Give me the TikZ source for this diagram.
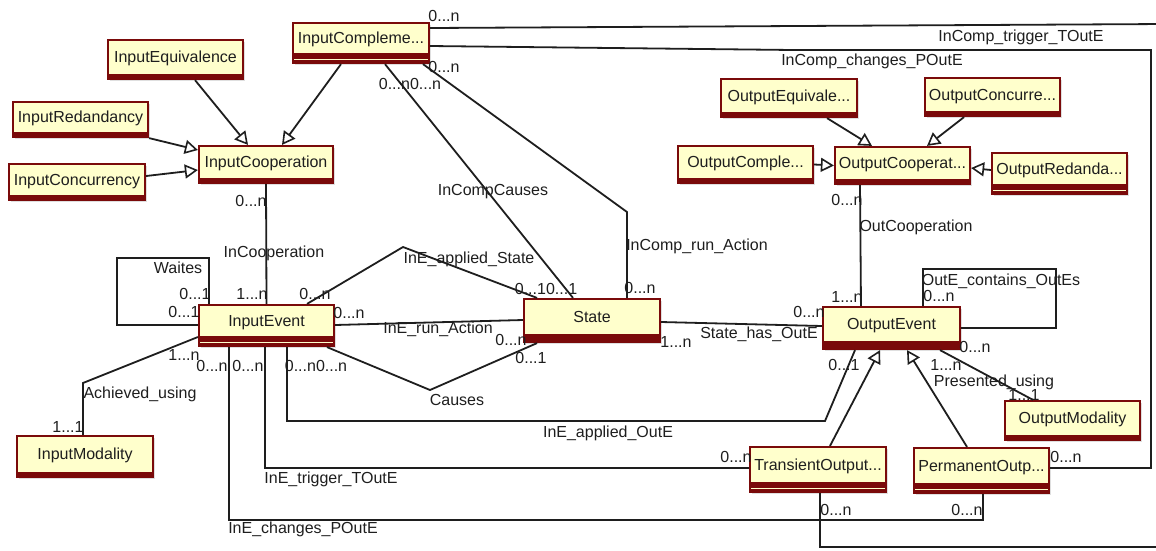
\documentclass[tikz,border=0pt]{standalone}
\usepackage{fontspec}
\setmainfont{Liberation Sans}
\usetikzlibrary{arrows.meta,shadows}
\definecolor{maroonc}{HTML}{7A0A0A}
\definecolor{creamc}{HTML}{FFFFCC}
\definecolor{inkc}{HTML}{1E1E1E}
\tikzset{
  cls/.style={rectangle, draw=maroonc, line width=2.2pt, fill=creamc, inner sep=0pt,
    text=inkc, font=\fontsize{16}{19}\selectfont, text height=11.5pt, text depth=#1,
    drop shadow={shadow xshift=2pt, shadow yshift=-2pt, opacity=0.25},
    path picture={\fill[maroonc] (path picture bounding box.south west) rectangle ([yshift=#1]path picture bounding box.south east);}},
  cls/.default=5pt,
  dbl/.style={cls=10pt,
    path picture={\fill[maroonc] (path picture bounding box.south west) rectangle ([yshift=10pt]path picture bounding box.south east);
      \draw[creamc, line width=1.3pt] ([yshift=3.5pt]path picture bounding box.south west) -- ([yshift=3.5pt]path picture bounding box.south east);}},
  lbl/.style={inner sep=0pt, text=inkc, font=\fontsize{16}{19}\selectfont, text height=11.5pt, text depth=0pt},
  asc/.style={draw=inkc, line width=1.8pt},
  gen/.style={draw=inkc, line width=1.8pt, -{Triangle[open, length=13pt, width=14pt, line width=1.6pt]}},
}
\begin{document}
\begin{tikzpicture}[x=1pt,y=-1pt]
\path[use as bounding box, clip] (0,0) rectangle (1156,550);
\fill[white] (0,0) rectangle (1156,550);

% classes
\node[cls, minimum width=135pt, minimum height=39pt] (IEq) at (175.5,59.5) {InputEquivalence};
\node[dbl, minimum width=136pt, minimum height=40pt] (ICm) at (361,43) {InputCompleme...};
\node[cls, minimum width=135pt, minimum height=35pt] (IRd) at (80.5,119.5) {InputRedandancy};
\node[cls, minimum width=134pt, minimum height=37pt] (ICo) at (266,164.5) {InputCooperation};
\node[cls, minimum width=136pt, minimum height=36pt] (ICc) at (77,182) {InputConcurrency};
\node[cls, minimum width=136pt, minimum height=38pt] (OEq) at (789,98) {OutputEquivale...};
\node[cls, minimum width=135pt, minimum height=38pt] (OCc) at (992.5,97) {OutputConcurre...};
\node[cls, minimum width=135pt, minimum height=37pt] (OCm) at (745.5,164.5) {OutputComple...};
\node[cls, minimum width=135pt, minimum height=37pt] (OCo) at (902.5,165.5) {OutputCooperat...};
\node[dbl, minimum width=135pt, minimum height=41pt] (ORd) at (1059.5,173.5) {OutputRedanda...};
\node[dbl, minimum width=135pt, minimum height=41pt] (IE) at (266.5,325.5) {InputEvent};
\node[cls=8pt, minimum width=136pt, minimum height=43pt] (ST) at (592,320.5) {State};
\node[cls=8pt, minimum width=137pt, minimum height=42pt] (OE) at (891.5,328) {OutputEvent};
\node[cls, minimum width=136pt, minimum height=41pt] (IM) at (85,456.5) {InputModality};
\node[cls, minimum width=135pt, minimum height=39pt] (OM) at (1072.5,420.5) {OutputModality};
\node[dbl, minimum width=136pt, minimum height=45pt] (TO) at (818,469.5) {TransientOutput...};
\node[dbl, minimum width=135pt, minimum height=45pt] (PO) at (981.5,470.5) {PermanentOutp...};

% generalizations
\draw[gen] (IEq.south -| 195,0) -- (ICo.north -| 248,0);
\draw[gen] (ICm.south -| 341,0) -- (ICo.north -| 282,0);
\draw[gen] (IRd.south east) -- (ICo.west |- 0,150);
\draw[gen] (ICc.east |- 0,176) -- (ICo.west |- 0,170);
\draw[gen] (OEq.south -| 827,0) -- (OCo.north -| 872,0);
\draw[gen] (OCc.south -| 964,0) -- (OCo.north -| 927,0);
\draw[gen] (OCm.east) -- (OCo.west);
\draw[gen] (ORd.west |- 0,170) -- (OCo.east |- 0,168);
\draw[gen] (TO.north -| 830,0) -- (OE.south -| 880,0);
\draw[gen] (PO.north -| 967,0) -- (OE.south -| 907,0);

% associations
\draw[asc] (ICo.south) -- (IE.north);
\draw[asc] (IE.west |- 0,325) -| (117,258) -| (IE.north -| 209,0);
\draw[asc] (IE.west |- 0,337) -- (83,383) -- (IM.north -| 83,0);
\draw[asc] (IE.north -| 307,0) -- (403,247) -- (ST.north -| 537,0);
\draw[asc] (IE.east |- 0,325) -- (ST.west |- 0,320);
\draw[asc] (IE.south -| 327,0) -- (430,390) -- (ST.south -| 537,0);
\draw[asc] (ICm.south -| 385,0) -- (ST.north -| 573,0);
\draw[asc] (ICm.south -| 423,0) -- (627,212) -- (ST.north -| 627,0);
\draw[asc] (ICm.east |- 0,28) -- (1165,24) |- (820,547) -- (TO.south -| 820,0);
\draw[asc] (ICm.east |- 0,46) -- (793,50) -| (1151,468) -- (PO.east |- 0,468);
\draw[asc] (IE.south -| 229,0) |- (983,520) -- (PO.south -| 983,0);
\draw[asc] (IE.south -| 265,0) |- (TO.west |- 0,468);
\draw[asc] (IE.south -| 287,0) |- (825,421) -- (OE.south -| 855,0);
\draw[asc] (OE.south -| 940,0) -- (OM.north -| 1033,0);
\draw[asc] (ST.east |- 0,322) -- (OE.west |- 0,326);
\draw[asc] (OCo.south -| 860,0) -- (OE.north -| 861,0);
\draw[asc] (OE.north -| 923,0) |- (1056,269) |- (OE.east |- 0,328);

% labels
\node[lbl] (l1) at (444,16) {0...n};
\node[lbl] (l2) at (444,67) {0...n};
\node[lbl] (l3) at (410,84) {0...n0...n};
\node[lbl] (l4) at (1021,36) {InComp\_trigger\_TOutE};
\node[lbl] (l5) at (872,60) {InComp\_changes\_POutE};
\node[lbl] (l6) at (493,190) {InCompCauses};
\node[lbl] (l7) at (274,252) {InCooperation};
\node[lbl] (l8) at (251,201) {0...n};
\node[lbl] (l9) at (178,268) {Waites};
\node[lbl] (l10) at (195,294) {0...1};
\node[lbl] (l11) at (184,312) {0...1};
\node[lbl] (l12) at (252,294) {1...n};
\node[lbl] (l13) at (315,294) {0...n};
\node[lbl] (l14) at (349,313) {0...n};
\node[lbl] (l15) at (184,355) {1...n};
\node[lbl] (l16) at (212,366) {0...n};
\node[lbl] (l17) at (248,366) {0...n};
\node[lbl] (l18) at (316,366) {0...n0...n};
\node[lbl] (l19) at (140,393) {Achieved\_using};
\node[lbl] (l20) at (68,427) {1...1};
\node[lbl] (l21) at (469,258) {InE\_applied\_State};
\node[lbl] (l22) at (546,289) {0...10...1};
\node[lbl] (l23) at (438,328) {InE\_run\_Action};
\node[lbl] (l24) at (511,340) {0...n};
\node[lbl] (l25) at (531,358) {0...1};
\node[lbl] (l26) at (457,400) {Causes};
\node[lbl] (l27) at (697,245) {InComp\_run\_Action};
\node[lbl] (l28) at (640,288) {0...n};
\node[lbl] (l29) at (676,342) {1...n};
\node[lbl] (l30) at (759,333) {State\_has\_OutE};
\node[lbl] (l31) at (809,312) {0...n};
\node[lbl] (l32) at (847,297) {1...n};
\node[lbl] (l33) at (916,226) {OutCooperation};
\node[lbl] (l34) at (847,200) {0...n};
\node[lbl] (l35) at (1001,280) {OutE\_contains\_OutEs};
\node[lbl] (l36) at (939,296) {0...n};
\node[lbl] (l37) at (975,347) {0...n};
\node[lbl] (l38) at (844,365) {0...1};
\node[lbl] (l39) at (946,365) {1...n};
\node[lbl] (l40) at (994,381) {Presented\_using};
\node[lbl] (l41) at (1024,395) {1...1};
\node[lbl] (l42) at (1066,457) {0...n};
\node[lbl] (l43) at (736,457) {0...n};
\node[lbl] (l44) at (608,432) {InE\_applied\_OutE};
\node[lbl] (l45) at (331,478) {InE\_trigger\_TOutE};
\node[lbl] (l46) at (303,528) {InE\_changes\_POutE};
\node[lbl] (l47) at (836,510) {0...n};
\node[lbl] (l48) at (967,510) {0...n};
\end{tikzpicture}
\end{document}
